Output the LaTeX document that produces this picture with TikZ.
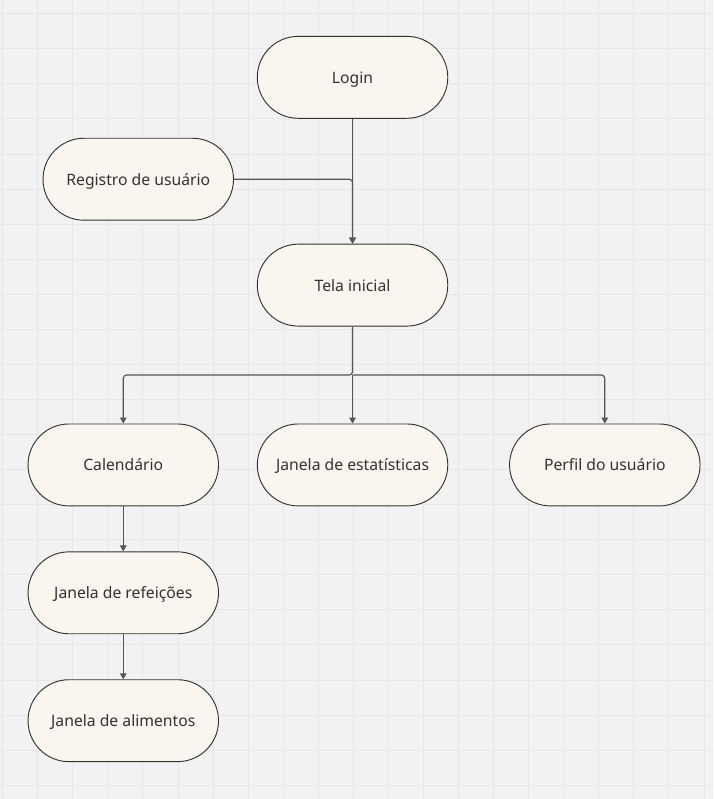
\documentclass[tikz,border=0pt]{standalone}
\usepackage{fontspec}
\setmainfont{Noto Sans}
\usetikzlibrary{arrows.meta}

\definecolor{bgcol}{HTML}{F2F2F2}
\definecolor{gridcol}{HTML}{E6E6E6}
\definecolor{boxfill}{HTML}{FAF6EF}
\definecolor{boxline}{HTML}{333333}
\definecolor{txtcol}{HTML}{333333}
\definecolor{linkcol}{HTML}{555555}

\begin{document}
\begin{tikzpicture}[x=0.75pt,y=-0.75pt]
    \tikzset{
        screen/.style={draw=boxline,fill=boxfill,line width=0.7pt,text=txtcol,
            minimum width=143pt,minimum height=61.5pt,rounded corners=30.7pt,
            font=\fontsize{11.8}{13}\selectfont,inner sep=0pt,
            text height=10.6pt,text depth=1.6pt},
        link/.style={draw=linkcol,line width=0.9pt,rounded corners=2.5pt,
            -{Triangle[length=4.5pt,width=5pt]}},
    }
    \begin{scope}
        % background grid
        \fill [bgcol] (0,0) rectangle (713,799);
        \foreach \i in {0,...,20}{%
            \draw [gridcol,line width=0.6pt] ({2.2+35.1*\i},0) -- ++(0,799);
        }
        \foreach \j in {0,...,22}{%
            \draw [gridcol,line width=0.6pt] (0,{13.3+35.1*\j}) -- ++(713,0);
        }
        \useasboundingbox (0,0) rectangle (713,799);

        \node [screen] (login)        at (352.5,77)  {Login};
        \node [screen] (registro)     at (138,179)   {Registro de usuário};
        \node [screen] (tela)         at (352.5,285) {Tela inicial};
        \node [screen] (calendario)   at (123,465)   {Calendário};
        \node [screen] (estatisticas) at (352.5,465) {Janela de estatísticas};
        \node [screen] (perfil)       at (605,465)   {Perfil do usuário};
        \node [screen] (refeicoes)    at (123,593)   {Janela de refeições};
        \node [screen] (alimentos)    at (123,721)   {Janela de alimentos};

        \coordinate (fork) at (352.5,375);

        \draw [link] (login) -- (tela);
        \draw [link] (registro) -| (tela);
        \draw [link] (tela) -- (fork) -| (calendario);
        \draw [link] (fork) -- (estatisticas);
        \draw [link] (fork) -| (perfil);
        \draw [link] (calendario) -- (refeicoes);
        \draw [link] (refeicoes) -- (alimentos);
    \end{scope}
\end{tikzpicture}
\end{document}
